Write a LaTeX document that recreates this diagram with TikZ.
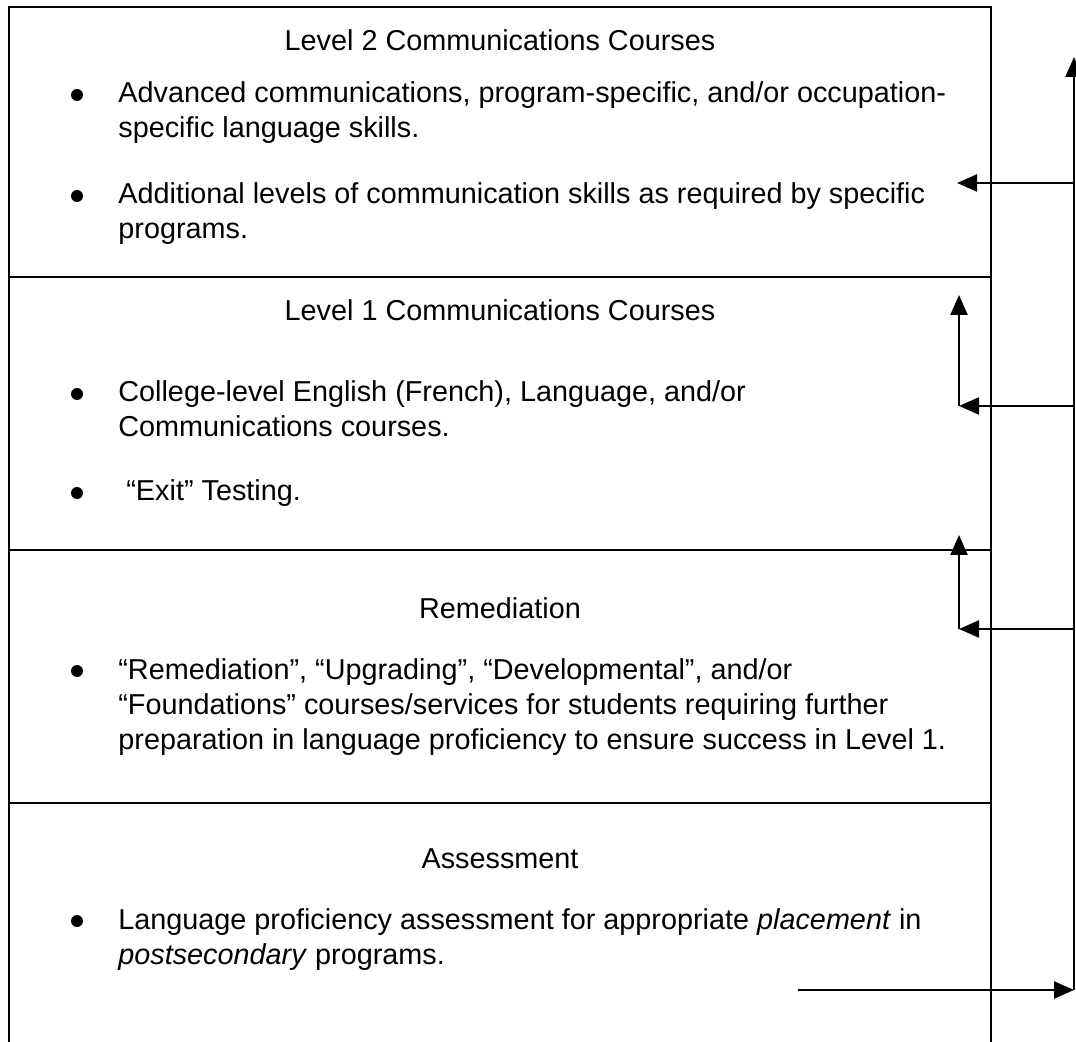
\documentclass[tikz,border=0pt]{standalone}
\usepackage{fontspec}
\setmainfont{Liberation Sans}
\usepackage{tikz}
\usetikzlibrary{arrows.meta}
\tikzset{heading/.style = {anchor = base, inner sep = 0pt, font = \fontsize{14.4}{17.5}\selectfont}}
\tikzset{item/.style = {anchor = base west, inner sep = 0pt, align = left, font = \fontsize{14.4}{17.5}\selectfont}}
\tikzset{dot/.style = {shape = circle, fill, inner sep = 0pt, minimum size = 6pt}}
\tikzset{frame/.style = {line width = 1.1pt}}
\tikzset{edge/.style = {-{Triangle[length = 10pt, width = 8.5pt]}, line width = 1.2pt}}

\begin{document}
\begin{tikzpicture}[x = 0.5pt, y = -0.5pt]
			\useasboundingbox (0, 0) rectangle (1076, 1042);

			% table of the four levels
			\draw[frame] (9, 1042) -- (9, 7) -- (991, 7) -- (991, 1042);
			\draw[frame] (9, 277) -- (991, 277);
			\draw[frame] (9, 550) -- (991, 550);
			\draw[frame] (9, 803) -- (991, 803);

			% (items are placed at the baseline of their last line)
			\node[heading] (h2) at (500, 51) {Level 2 Communications Courses};
			\node[dot] (d1) at (77, 95) {};
			\node[item] (t1) at (118, 138) {Advanced communications, program-specific, and/or occupation-\\specific language skills.};
			\node[dot] (d2) at (77, 196) {};
			\node[item] (t2) at (118, 239) {Additional levels of communication skills as required by specific\\programs.};

			\node[heading] (h1) at (500, 321) {Level 1 Communications Courses};
			\node[dot] (d3) at (77, 394) {};
			\node[item] (t3) at (118, 437) {College-level English (French), Language, and/or\\Communications courses.};
			\node[dot] (d4) at (77, 493) {};
			\node[item] (t4) at (118, 501) {\hspace{0.278em}“Exit” Testing.};

			\node[heading] (h0) at (500, 618) {Remediation};
			\node[dot] (d5) at (77, 671) {};
			\node[item] (t5) at (118, 749) {“Remediation”, “Upgrading”, “Developmental”, and/or\\“Foundations” courses/services for students requiring further\\preparation in language proficiency to ensure success in Level 1.};

			\node[heading] (ha) at (500, 868) {Assessment};
			\node[dot] (d6) at (77, 921) {};
			\node[item] (t6) at (118, 964) {Language proficiency assessment for appropriate \textit{placement} in\\\textit{postsecondary} programs.};

			% arrows on the right
			\coordinate (top) at (1074, 57);
			\coordinate (bot) at (1074, 990);
			\coordinate (start) at (798, 990);
			\coordinate (r2) at (1074, 183);
			\coordinate (r1) at (1074, 406);
			\coordinate (r0) at (1074, 629);
			\coordinate (l2) at (957, 183);
			\coordinate (l1) at (959, 406);
			\coordinate (l0) at (959, 629);
			\coordinate (u1) at (959, 295);
			\coordinate (u0) at (959, 535);

			\draw[edge] (bot) to (top);
			\draw[edge] (start) to (bot);
			\draw[edge] (r2) to (l2);
			\draw[edge] (r1) to (l1);
			\draw[edge] (l1) to (u1);
			\draw[edge] (r0) to (l0);
			\draw[edge] (l0) to (u0);
		\end{tikzpicture}
\end{document}
